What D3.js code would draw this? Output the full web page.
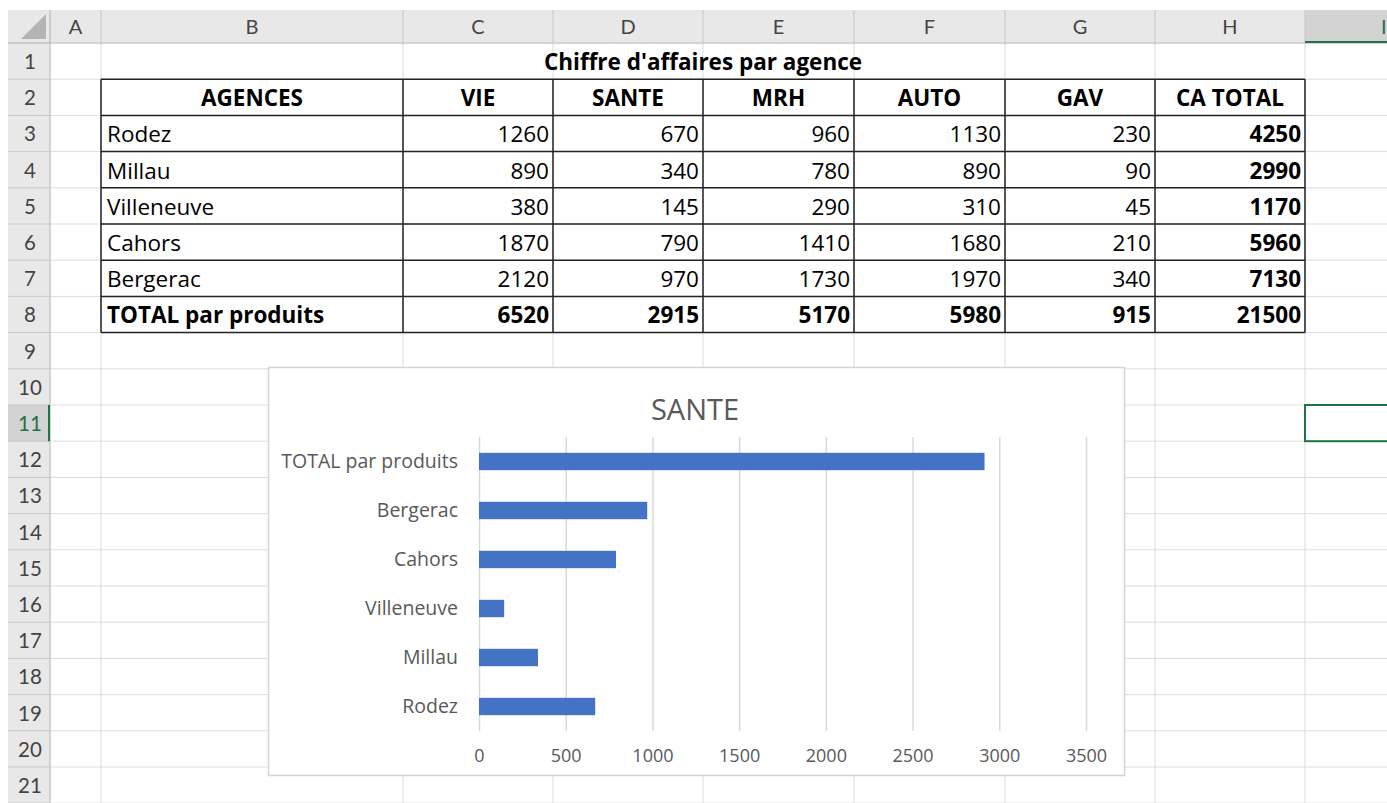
<!DOCTYPE html>
<html><head><meta charset="utf-8">
<script src="https://cdn.jsdelivr.net/npm/d3@7"></script>
<style>html,body{margin:0;padding:0;background:#fff;overflow:hidden}svg{display:block}</style>
</head><body>
<svg id="s" width="1387" height="803"></svg>
<script>
// ---- data ----
const colLetters = ["A","B","C","D","E","F","G","H","I"];
const tableTitle = "Chiffre d'affaires par agence";
const headers = ["AGENCES","VIE","SANTE","MRH","AUTO","GAV","CA TOTAL"];
const agences = ["Rodez","Millau","Villeneuve","Cahors","Bergerac"];
const vie   = [1260, 890, 380, 1870, 2120];
const sante = [670, 340, 145, 790, 970];
const mrh   = [960, 780, 290, 1410, 1730];
const auto  = [1130, 890, 310, 1680, 1970];
const gav   = [230, 90, 45, 210, 340];
const caTotal = [4250, 2990, 1170, 5960, 7130];
const totalLabel = "TOTAL par produits";
const totalParProduits = [6520, 2915, 5170, 5980, 915, 21500];
const chartTitle = "SANTE";
const chartCats = ["Rodez","Millau","Villeneuve","Cahors","Bergerac","TOTAL par produits"];
const chartVals = [670, 340, 145, 790, 970, 2915];
const xTicks = [0, 500, 1000, 1500, 2000, 2500, 3000, 3500];

// ---- layout ----
const svg = d3.select("#s");
const FONT = "'Open Sans', Lato, sans-serif";
const HFONT = "Lato, 'Open Sans', sans-serif";
const colEdges = [50, 101, 403, 553, 703, 854, 1005, 1155, 1305, 1460];
const rowHdrX0 = 8, hdrY0 = 10, hdrY1 = 43, rowH = 36.2, nRows = 21;
const rowTop = i => hdrY1 + (i - 1) * rowH; // i = 1-based row number

// grid lines
const g = svg.append("g");
for (let i = 1; i <= nRows + 1; i++) {
  g.append("line").attr("x1", 50).attr("x2", 1387).attr("y1", rowTop(i)).attr("y2", rowTop(i))
    .attr("stroke", "#dcdcdc").attr("stroke-width", 1);
}
colEdges.forEach(x => g.append("line").attr("x1", x).attr("x2", x).attr("y1", hdrY1).attr("y2", 803)
  .attr("stroke", "#dcdcdc").attr("stroke-width", 1));

// column header band
g.append("rect").attr("x", rowHdrX0).attr("y", hdrY0).attr("width", 1387 - rowHdrX0).attr("height", hdrY1 - hdrY0).attr("fill", "#e8e8e8");
g.append("rect").attr("x", colEdges[8]).attr("y", hdrY0).attr("width", 1387 - colEdges[8]).attr("height", hdrY1 - hdrY0).attr("fill", "#d3d3d3");
// row header band
g.append("rect").attr("x", rowHdrX0).attr("y", hdrY1).attr("width", 50 - rowHdrX0).attr("height", 803 - hdrY1).attr("fill", "#e8e8e8");
g.append("rect").attr("x", rowHdrX0).attr("y", rowTop(11)).attr("width", 50 - rowHdrX0).attr("height", rowH).attr("fill", "#d3d3d3");
// corner triangle
g.append("path").attr("d", `M${46},${14} L${46},${39} L${21},${39} Z`).attr("fill", "#b4b4b4");
// header separators
colEdges.forEach(x => g.append("line").attr("x1", x).attr("x2", x).attr("y1", hdrY0).attr("y2", hdrY1).attr("stroke", "#c8c8c8"));
for (let i = 1; i <= nRows + 1; i++) {
  g.append("line").attr("x1", rowHdrX0).attr("x2", 50).attr("y1", rowTop(i)).attr("y2", rowTop(i)).attr("stroke", "#c8c8c8");
}
g.append("line").attr("x1", rowHdrX0).attr("x2", 1387).attr("y1", hdrY1).attr("y2", hdrY1).attr("stroke", "#bdbdbd");
g.append("line").attr("x1", 50).attr("x2", 50).attr("y1", hdrY0).attr("y2", 803).attr("stroke", "#bdbdbd");
// selection accents
g.append("line").attr("x1", colEdges[8]).attr("x2", 1387).attr("y1", hdrY1 - 1).attr("y2", hdrY1 - 1).attr("stroke", "#217346").attr("stroke-width", 2);
g.append("line").attr("x1", 49).attr("x2", 49).attr("y1", rowTop(11)).attr("y2", rowTop(12)).attr("stroke", "#217346").attr("stroke-width", 2);

// column letters
colLetters.forEach((c, i) => {
  const cx = (colEdges[i] + colEdges[i + 1]) / 2;
  g.append("text").attr("x", i === 8 ? 1381 : cx).attr("y", 34).attr("text-anchor", i === 8 ? "start" : "middle")
    .attr("font-family", HFONT).attr("font-size", 20).attr("fill", i === 8 ? "#217346" : "#444").text(c);
});
// row numbers
for (let i = 1; i <= nRows; i++) {
  g.append("text").attr("x", 30).attr("y", rowTop(i) + 26).attr("text-anchor", "middle")
    .attr("font-family", HFONT).attr("font-size", 20.5).attr("fill", i === 11 ? "#217346" : "#444").text(i);
}

// table
const t = svg.append("g").attr("font-family", FONT).attr("fill", "#000");
const cellFont = 22.5;
const base = 27;
t.append("text").attr("x", (colEdges[1] + colEdges[8]) / 2).attr("y", rowTop(1) + base).attr("text-anchor", "middle")
  .attr("font-size", cellFont).attr("font-weight", "bold").text(tableTitle);
headers.forEach((h, j) => {
  t.append("text").attr("x", (colEdges[j + 1] + colEdges[j + 2]) / 2).attr("y", rowTop(2) + base).attr("text-anchor", "middle")
    .attr("font-size", cellFont).attr("font-weight", "bold").text(h);
});
const cols = [vie, sante, mrh, auto, gav, caTotal];
agences.forEach((a, i) => {
  const y = rowTop(3 + i) + base;
  t.append("text").attr("x", colEdges[1] + 6).attr("y", y).attr("font-size", cellFont).text(a);
  cols.forEach((arr, j) => {
    t.append("text").attr("x", colEdges[j + 3] - 4).attr("y", y).attr("text-anchor", "end")
      .attr("font-size", cellFont).attr("font-weight", j === 5 ? "bold" : "normal").text(arr[i]);
  });
});
t.append("text").attr("x", colEdges[1] + 6).attr("y", rowTop(8) + base).attr("font-size", cellFont).attr("font-weight", "bold").text(totalLabel);
totalParProduits.forEach((v, j) => {
  t.append("text").attr("x", colEdges[j + 3] - 4).attr("y", rowTop(8) + base).attr("text-anchor", "end")
    .attr("font-size", cellFont).attr("font-weight", "bold").text(v);
});
// table borders
for (let i = 2; i <= 9; i++) {
  t.append("line").attr("x1", colEdges[1]).attr("x2", colEdges[8]).attr("y1", rowTop(i)).attr("y2", rowTop(i)).attr("stroke", "#222").attr("stroke-width", 1.5);
}
for (let j = 1; j <= 8; j++) {
  t.append("line").attr("x1", colEdges[j]).attr("x2", colEdges[j]).attr("y1", rowTop(2)).attr("y2", rowTop(9)).attr("stroke", "#222").attr("stroke-width", 1.5);
}

// selected cell I11
svg.append("rect").attr("x", colEdges[8]).attr("y", rowTop(11)).attr("width", 120).attr("height", rowH)
  .attr("fill", "none").attr("stroke", "#217346").attr("stroke-width", 2);

// ---- chart ----
const c = svg.append("g").attr("font-family", FONT);
c.append("rect").attr("x", 268.5).attr("y", 367.5).attr("width", 856).attr("height", 408)
  .attr("fill", "#fff").attr("stroke", "#d4d4d4").attr("stroke-width", 1.5);
c.append("text").attr("x", 695).attr("y", 420).attr("text-anchor", "middle").attr("font-size", 29)
  .attr("fill", "#595959").text(chartTitle);

const plotTop = 437, plotBottom = 731;
const x = d3.scaleLinear().domain([0, 3500]).range([479, 1086]);
const y = d3.scaleBand().domain(chartCats).range([plotBottom, plotTop]).paddingInner(0.645).paddingOuter(0.3225);

const xAxis = c.append("g").attr("transform", `translate(0,${plotBottom})`)
  .call(d3.axisBottom(x).tickValues(xTicks).tickSize(-(plotBottom - plotTop)).tickPadding(18).tickFormat(d3.format("d")));
xAxis.select(".domain").remove();
xAxis.selectAll(".tick line").attr("stroke", "#d9d9d9").attr("stroke-width", 1.5);
xAxis.selectAll(".tick text").attr("fill", "#595959").attr("font-size", 18).attr("font-family", FONT);

c.selectAll("rect.bar").data(chartCats).enter().append("rect").attr("class", "bar")
  .attr("x", x(0)).attr("y", d => y(d)).attr("height", y.bandwidth())
  .attr("width", (d, i) => x(chartVals[i]) - x(0)).attr("fill", "#4472C4");

const yAxis = c.append("g").attr("transform", `translate(${x(0)},0)`)
  .call(d3.axisLeft(y).tickSize(0).tickPadding(21));
yAxis.select(".domain").remove();
yAxis.selectAll(".tick text").attr("fill", "#595959").attr("font-size", 19.5).attr("font-family", FONT);
</script>
</body></html>
